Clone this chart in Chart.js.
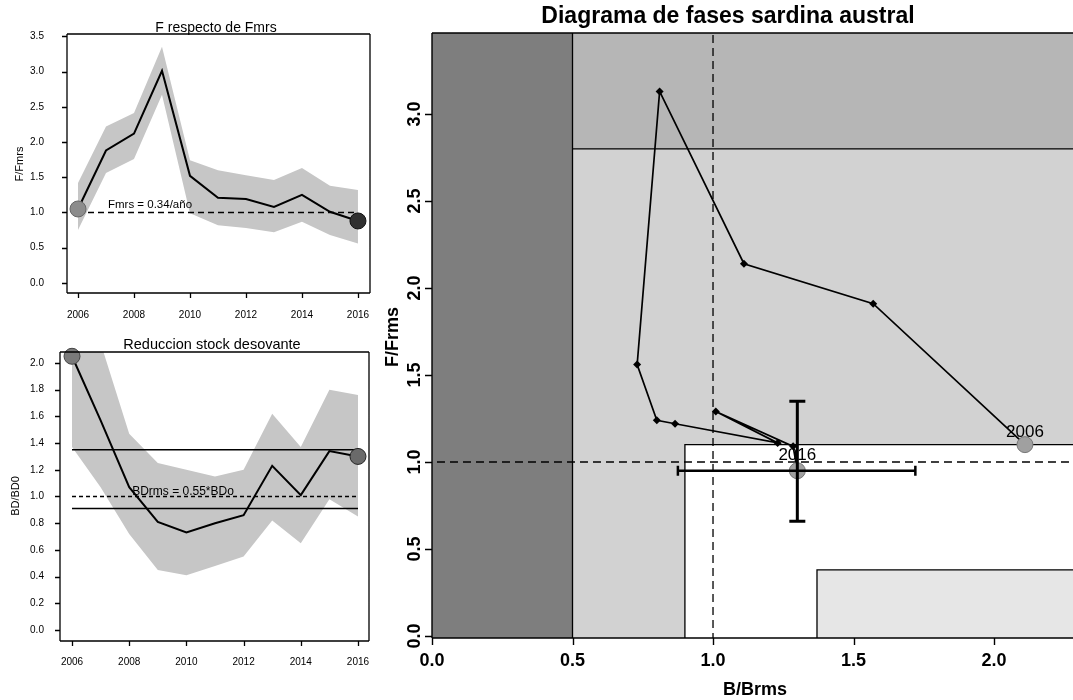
<!DOCTYPE html>
<html><head><meta charset="utf-8">
<script src="https://cdn.jsdelivr.net/npm/chart.js@4.4.0/dist/chart.umd.min.js"></script>
<style>
html,body{margin:0;padding:0;background:#fff;width:1073px;height:700px;overflow:hidden;position:relative}
canvas{position:absolute}
#c1{left:0;top:0}
#c2{left:0;top:330px}
#c3{left:375px;top:0}
</style></head><body>
<canvas id="c1" width="372" height="330"></canvas>
<canvas id="c2" width="371" height="370"></canvas>
<canvas id="c3" width="698" height="700"></canvas>
<script>
// ---------------- DATA ----------------
const years = [2006,2007,2008,2009,2010,2011,2012,2013,2014,2015,2016];
// F / Fmrs (top-left)
const fFmrs  = [1.05,1.88,2.12,3.01,1.52,1.21,1.19,1.08,1.25,1.01,0.88];
const fUpper = [1.42,2.22,2.41,3.35,1.74,1.60,1.53,1.46,1.63,1.38,1.32];
const fLower = [0.75,1.56,1.76,2.67,0.99,0.82,0.78,0.72,0.87,0.68,0.56];
const fRef = [1.0];
// BD / BD0 (bottom-left)
const bdRatio = [2.05,1.57,1.07,0.81,0.73,0.80,0.86,1.23,1.01,1.34,1.30];
const bdUpper = [2.40,2.15,1.47,1.25,1.20,1.15,1.20,1.62,1.37,1.80,1.76];
const bdLower = [1.37,1.07,0.72,0.45,0.41,0.48,0.55,0.82,0.65,0.98,0.85];
const bdRef = [1.0];
const bdLimits = [0.91, 1.35];
// Phase diagram
const phaseB = [2.11,1.57,1.11,0.81,0.73,0.80,0.865,1.23,1.01,1.285,1.30];
const phaseF = [1.10,1.91,2.14,3.13,1.56,1.24,1.22,1.11,1.29,1.09,0.95];
const errB2016 = [0.875, 1.72];
const errF2016 = [0.66, 1.35];
const refB = [1.0];
const refFphase = [1.0];
const zoneB = [0.5, 0.9, 1.37];   // B limit, B target edge, lower-right box edge
const zoneF = [1.1, 2.8, 0.38];   // F target edge, F limit, lower-right box top
// ticks
const yearTicks = [2006,2008,2010,2012,2014,2016];
const fTicks = [0,0.5,1,1.5,2,2.5,3,3.5];
const bdTicks = [0,0.2,0.4,0.6,0.8,1.0,1.2,1.4,1.6,1.8,2.0];
const phaseBTicks = [0,0.5,1,1.5,2];
const phaseFTicks = [0,0.5,1,1.5,2,2.5,3];

// ---------------- HELPERS ----------------
const FONT = '"Liberation Sans", Arial, sans-serif';
const pts = (xs, ys) => xs.map((x,i)=>({x:x, y:ys[i]}));
const lastI = years.length-1;

const framePlugin = {
  id:'frame',
  afterDraw(chart, args, o){
    const {ctx, chartArea:a, scales:{x,y}} = chart;
    ctx.save();
    ctx.strokeStyle='#000'; ctx.lineWidth=o.lw;
    ctx.beginPath();
    if (o.sides.includes('t')) { ctx.moveTo(a.left,a.top); ctx.lineTo(a.right,a.top); }
    if (o.sides.includes('b')) { ctx.moveTo(a.left,a.bottom); ctx.lineTo(a.right,a.bottom); }
    if (o.sides.includes('l')) { ctx.moveTo(a.left,a.top); ctx.lineTo(a.left,a.bottom); }
    if (o.sides.includes('r')) { ctx.moveTo(a.right,a.top); ctx.lineTo(a.right,a.bottom); }
    o.xTicks.forEach(v=>{const p=Math.round(x.getPixelForValue(v))+0.5; ctx.moveTo(p,a.bottom); ctx.lineTo(p,a.bottom+o.tl);});
    o.yTicks.forEach(v=>{const p=Math.round(y.getPixelForValue(v))+0.5; ctx.moveTo(a.left,p); ctx.lineTo(a.left-o.tl,p);});
    ctx.stroke();
    ctx.fillStyle='#000'; ctx.textAlign='center'; ctx.textBaseline='middle';
    ctx.font=o.tickFont;
    o.xTicks.forEach(v=>ctx.fillText(o.xFmt(v), x.getPixelForValue(v), o.xLabelY));
    o.yTicks.forEach(v=>{
      const p=y.getPixelForValue(v);
      if (o.rotY){ ctx.save(); ctx.translate(o.yLabelX,p); ctx.rotate(-Math.PI/2); ctx.fillText(o.yFmt(v),0,0); ctx.restore(); }
      else ctx.fillText(o.yFmt(v), o.yLabelX, p);
    });
    o.texts.forEach(t=>{
      ctx.font=t.font; ctx.save(); ctx.translate(t.x,t.y);
      if (t.rot) ctx.rotate(-Math.PI/2);
      ctx.fillText(t.text,0,0); ctx.restore();
    });
    ctx.restore();
  }
};

const baseOpts = (xr, yr, pad, xh, yw, frame) => ({
  responsive:false, animation:false, devicePixelRatio:1,
  layout:{padding:pad, autoPadding:false},
  plugins:{legend:{display:false}, tooltip:{enabled:false}, filler:{drawTime:'beforeDatasetsDraw'}, frame:frame},
  scales:{
    x:{type:'linear', min:xr[0], max:xr[1], grid:{display:false}, border:{display:false}, ticks:{display:false}, afterFit:s=>{s.height=xh;}},
    y:{type:'linear', min:yr[0], max:yr[1], grid:{display:false}, border:{display:false}, ticks:{display:false}, afterFit:s=>{s.width=yw;}}
  }
});

const BAND = '#c6c6c6';

// ---------------- CHART 1 : F respecto de Fmrs ----------------
new Chart(document.getElementById('c1'), {
  type:'line',
  data:{datasets:[
    {order:4, data:pts(years,fUpper), borderWidth:0, pointRadius:0, fill:'+1', backgroundColor:BAND},
    {order:5, data:pts(years,fLower), borderWidth:0, pointRadius:0, fill:false},
    {order:2, data:[{x:years[0],y:fRef[0]},{x:years[lastI],y:fRef[0]}], borderColor:'#000', borderWidth:1.3, borderDash:[6,4], pointRadius:0, fill:false},
    {order:1, data:pts(years,fFmrs), borderColor:'#000', borderWidth:2, pointRadius:0, fill:false},
    {order:0, data:[{x:years[0],y:fFmrs[0]},{x:years[lastI],y:fFmrs[lastI]}], showLine:false, pointRadius:8, pointBackgroundColor:['#8c8c8c','#303030'], pointBorderColor:['#666','#111'], pointBorderWidth:1, clip:false}
  ]},
  options: baseOpts([2005.607,2016.43],[-0.142,3.532],{top:34,right:2,left:0,bottom:0},37,67,{
    lw:1.3, sides:'tblr', tl:5, tickFont:'10px '+FONT,
    xTicks:yearTicks, yTicks:fTicks, xLabelY:315, yLabelX:37, rotY:false,
    xFmt:v=>String(v), yFmt:v=>v.toFixed(1),
    texts:[
      {text:'F respecto de Fmrs', x:216, y:28, font:'14px '+FONT},
      {text:'F/Fmrs', x:20, y:164, font:'11px '+FONT, rot:true},
      {text:'Fmrs = 0.34/año', x:150, y:205, font:'11.5px '+FONT}
    ]
  }),
  plugins:[framePlugin]
});

// ---------------- CHART 2 : Reduccion stock desovante ----------------
new Chart(document.getElementById('c2'), {
  type:'line',
  data:{datasets:[
    {order:6, data:pts(years,bdUpper), borderWidth:0, pointRadius:0, fill:'+1', backgroundColor:BAND},
    {order:7, data:pts(years,bdLower), borderWidth:0, pointRadius:0, fill:false},
    {order:3, data:[{x:years[0],y:bdLimits[1]},{x:years[lastI],y:bdLimits[1]}], borderColor:'#000', borderWidth:1.5, pointRadius:0, fill:false},
    {order:3, data:[{x:years[0],y:bdLimits[0]},{x:years[lastI],y:bdLimits[0]}], borderColor:'#000', borderWidth:1.5, pointRadius:0, fill:false},
    {order:2, data:[{x:years[0],y:bdRef[0]},{x:years[lastI],y:bdRef[0]}], borderColor:'#000', borderWidth:1.3, borderDash:[4,3], pointRadius:0, fill:false},
    {order:1, data:pts(years,bdRatio), borderColor:'#000', borderWidth:2, pointRadius:0, fill:false},
    {order:0, data:[{x:years[0],y:bdRatio[0]},{x:years[lastI],y:bdRatio[lastI]}], showLine:false, pointRadius:8, pointBackgroundColor:['#7a7a7a','#6a6a6a'], pointBorderColor:['#444','#222'], pointBorderWidth:1, clip:false}
  ]},
  options: baseOpts([2005.58,2016.385],[-0.082,2.082],{top:22,right:2,left:0,bottom:0},59,60,{
    lw:1.3, sides:'tblr', tl:5, tickFont:'10px '+FONT,
    xTicks:yearTicks, yTicks:bdTicks, xLabelY:332, yLabelX:37, rotY:false,
    xFmt:v=>String(v), yFmt:v=>v.toFixed(1),
    texts:[
      {text:'Reduccion stock desovante', x:212, y:15, font:'14.5px '+FONT},
      {text:'BD/BD0', x:16, y:166, font:'11px '+FONT, rot:true},
      {text:'BDrms = 0.55*BDo', x:183, y:162, font:'12px '+FONT}
    ]
  }),
  plugins:[framePlugin]
});

// ---------------- CHART 3 : Diagrama de fases ----------------
const COL = {dark:'#7e7e7e', mid:'#b6b6b6', light:'#d2d2d2', pale:'#e6e6e6'};
const zonePlugin = {
  id:'zones',
  beforeDatasetsDraw(chart){
    const {ctx, chartArea:a, scales:{x,y}} = chart;
    const X=v=>x.getPixelForValue(v), Y=v=>y.getPixelForValue(v);
    const L=a.left,R=a.right,T=a.top,B=a.bottom;
    ctx.save();
    ctx.beginPath(); ctx.rect(L,T,R-L,B-T); ctx.clip();
    ctx.fillStyle=COL.light; ctx.fillRect(X(zoneB[0]),T,R-X(zoneB[0]),B-T);
    ctx.fillStyle=COL.mid; ctx.fillRect(X(zoneB[0]),T,R-X(zoneB[0]),Y(zoneF[1])-T);
    ctx.fillStyle=COL.dark; ctx.fillRect(L,T,X(zoneB[0])-L,B-T);
    ctx.fillStyle='#fff'; ctx.fillRect(X(zoneB[1]),Y(zoneF[0]),R-X(zoneB[1]),B-Y(zoneF[0]));
    ctx.fillStyle=COL.pale; ctx.fillRect(X(zoneB[2]),Y(zoneF[2]),R-X(zoneB[2]),B-Y(zoneF[2]));
    ctx.strokeStyle='#000'; ctx.lineWidth=1.3;
    ctx.beginPath();
    ctx.moveTo(X(zoneB[0]),T); ctx.lineTo(X(zoneB[0]),B);
    ctx.moveTo(X(zoneB[0]),Y(zoneF[1])); ctx.lineTo(R,Y(zoneF[1]));
    ctx.moveTo(X(zoneB[1]),B); ctx.lineTo(X(zoneB[1]),Y(zoneF[0])); ctx.lineTo(R,Y(zoneF[0]));
    ctx.moveTo(X(zoneB[2]),B); ctx.lineTo(X(zoneB[2]),Y(zoneF[2])); ctx.lineTo(R,Y(zoneF[2]));
    ctx.stroke();
    ctx.restore();
  },
  afterDatasetsDraw(chart){
    const {ctx, scales:{x,y}} = chart;
    const X=v=>x.getPixelForValue(v), Y=v=>y.getPixelForValue(v);
    ctx.save();
    ctx.strokeStyle='#000';
    const xb=X(phaseB[lastI]), yb=Y(phaseF[lastI]);
    ctx.lineWidth=3; ctx.beginPath();
    ctx.moveTo(xb,Y(errF2016[0])); ctx.lineTo(xb,Y(errF2016[1]));
    ctx.moveTo(xb-8,Y(errF2016[0])); ctx.lineTo(xb+8,Y(errF2016[0]));
    ctx.moveTo(xb-8,Y(errF2016[1])); ctx.lineTo(xb+8,Y(errF2016[1]));
    ctx.stroke();
    ctx.lineWidth=2.5; ctx.beginPath();
    ctx.moveTo(X(errB2016[0]),yb); ctx.lineTo(X(errB2016[1]),yb);
    ctx.moveTo(X(errB2016[0]),yb-5); ctx.lineTo(X(errB2016[0]),yb+5);
    ctx.moveTo(X(errB2016[1]),yb-5); ctx.lineTo(X(errB2016[1]),yb+5);
    ctx.stroke();
    ctx.fillStyle='#000'; ctx.font='17px '+FONT; ctx.textAlign='center'; ctx.textBaseline='middle';
    ctx.fillText(String(years[0]), X(phaseB[0]), Y(phaseF[0])-12);
    ctx.fillText(String(years[lastI]), X(phaseB[lastI]), Y(phaseF[lastI])-15);
    ctx.restore();
  }
};

new Chart(document.getElementById('c3'), {
  type:'line',
  data:{datasets:[
    {order:3, data:[{x:refB[0],y:-1},{x:refB[0],y:5}], borderColor:'#000', borderWidth:1.3, borderDash:[8,5], pointRadius:0, fill:false},
    {order:3, data:[{x:-1,y:refFphase[0]},{x:5,y:refFphase[0]}], borderColor:'#000', borderWidth:1.3, borderDash:[8,5], pointRadius:0, fill:false},
    {order:1, data:pts(phaseB,phaseF), borderColor:'#000', borderWidth:1.7, fill:false, pointStyle:'rectRot',
      pointRadius:c=>(c.dataIndex===0||c.dataIndex===lastI)?0:4, pointBackgroundColor:'#000', pointBorderColor:'#000', pointBorderWidth:0},
    {order:0, data:[{x:phaseB[0],y:phaseF[0]},{x:phaseB[lastI],y:phaseF[lastI]}], showLine:false, pointRadius:8, pointBackgroundColor:'#a0a0a0', pointBorderColor:'#777', pointBorderWidth:1}
  ]},
  options: baseOpts([0,2.281],[-0.0115,3.466],{top:33,right:0,left:0,bottom:0},62,57,{
    lw:1.4, sides:'tbl', tl:7, tickFont:'bold 18px '+FONT,
    xTicks:phaseBTicks, yTicks:phaseFTicks, xLabelY:661, yLabelX:40, rotY:true,
    xFmt:v=>v.toFixed(1), yFmt:v=>v.toFixed(1),
    texts:[
      {text:'Diagrama de fases sardina austral', x:353, y:17, font:'bold 23px '+FONT},
      {text:'F/Frms', x:18, y:337, font:'bold 18px '+FONT, rot:true},
      {text:'B/Brms', x:380, y:690, font:'bold 18px '+FONT}
    ]
  }),
  plugins:[zonePlugin, framePlugin]
});
</script>
</body></html>
